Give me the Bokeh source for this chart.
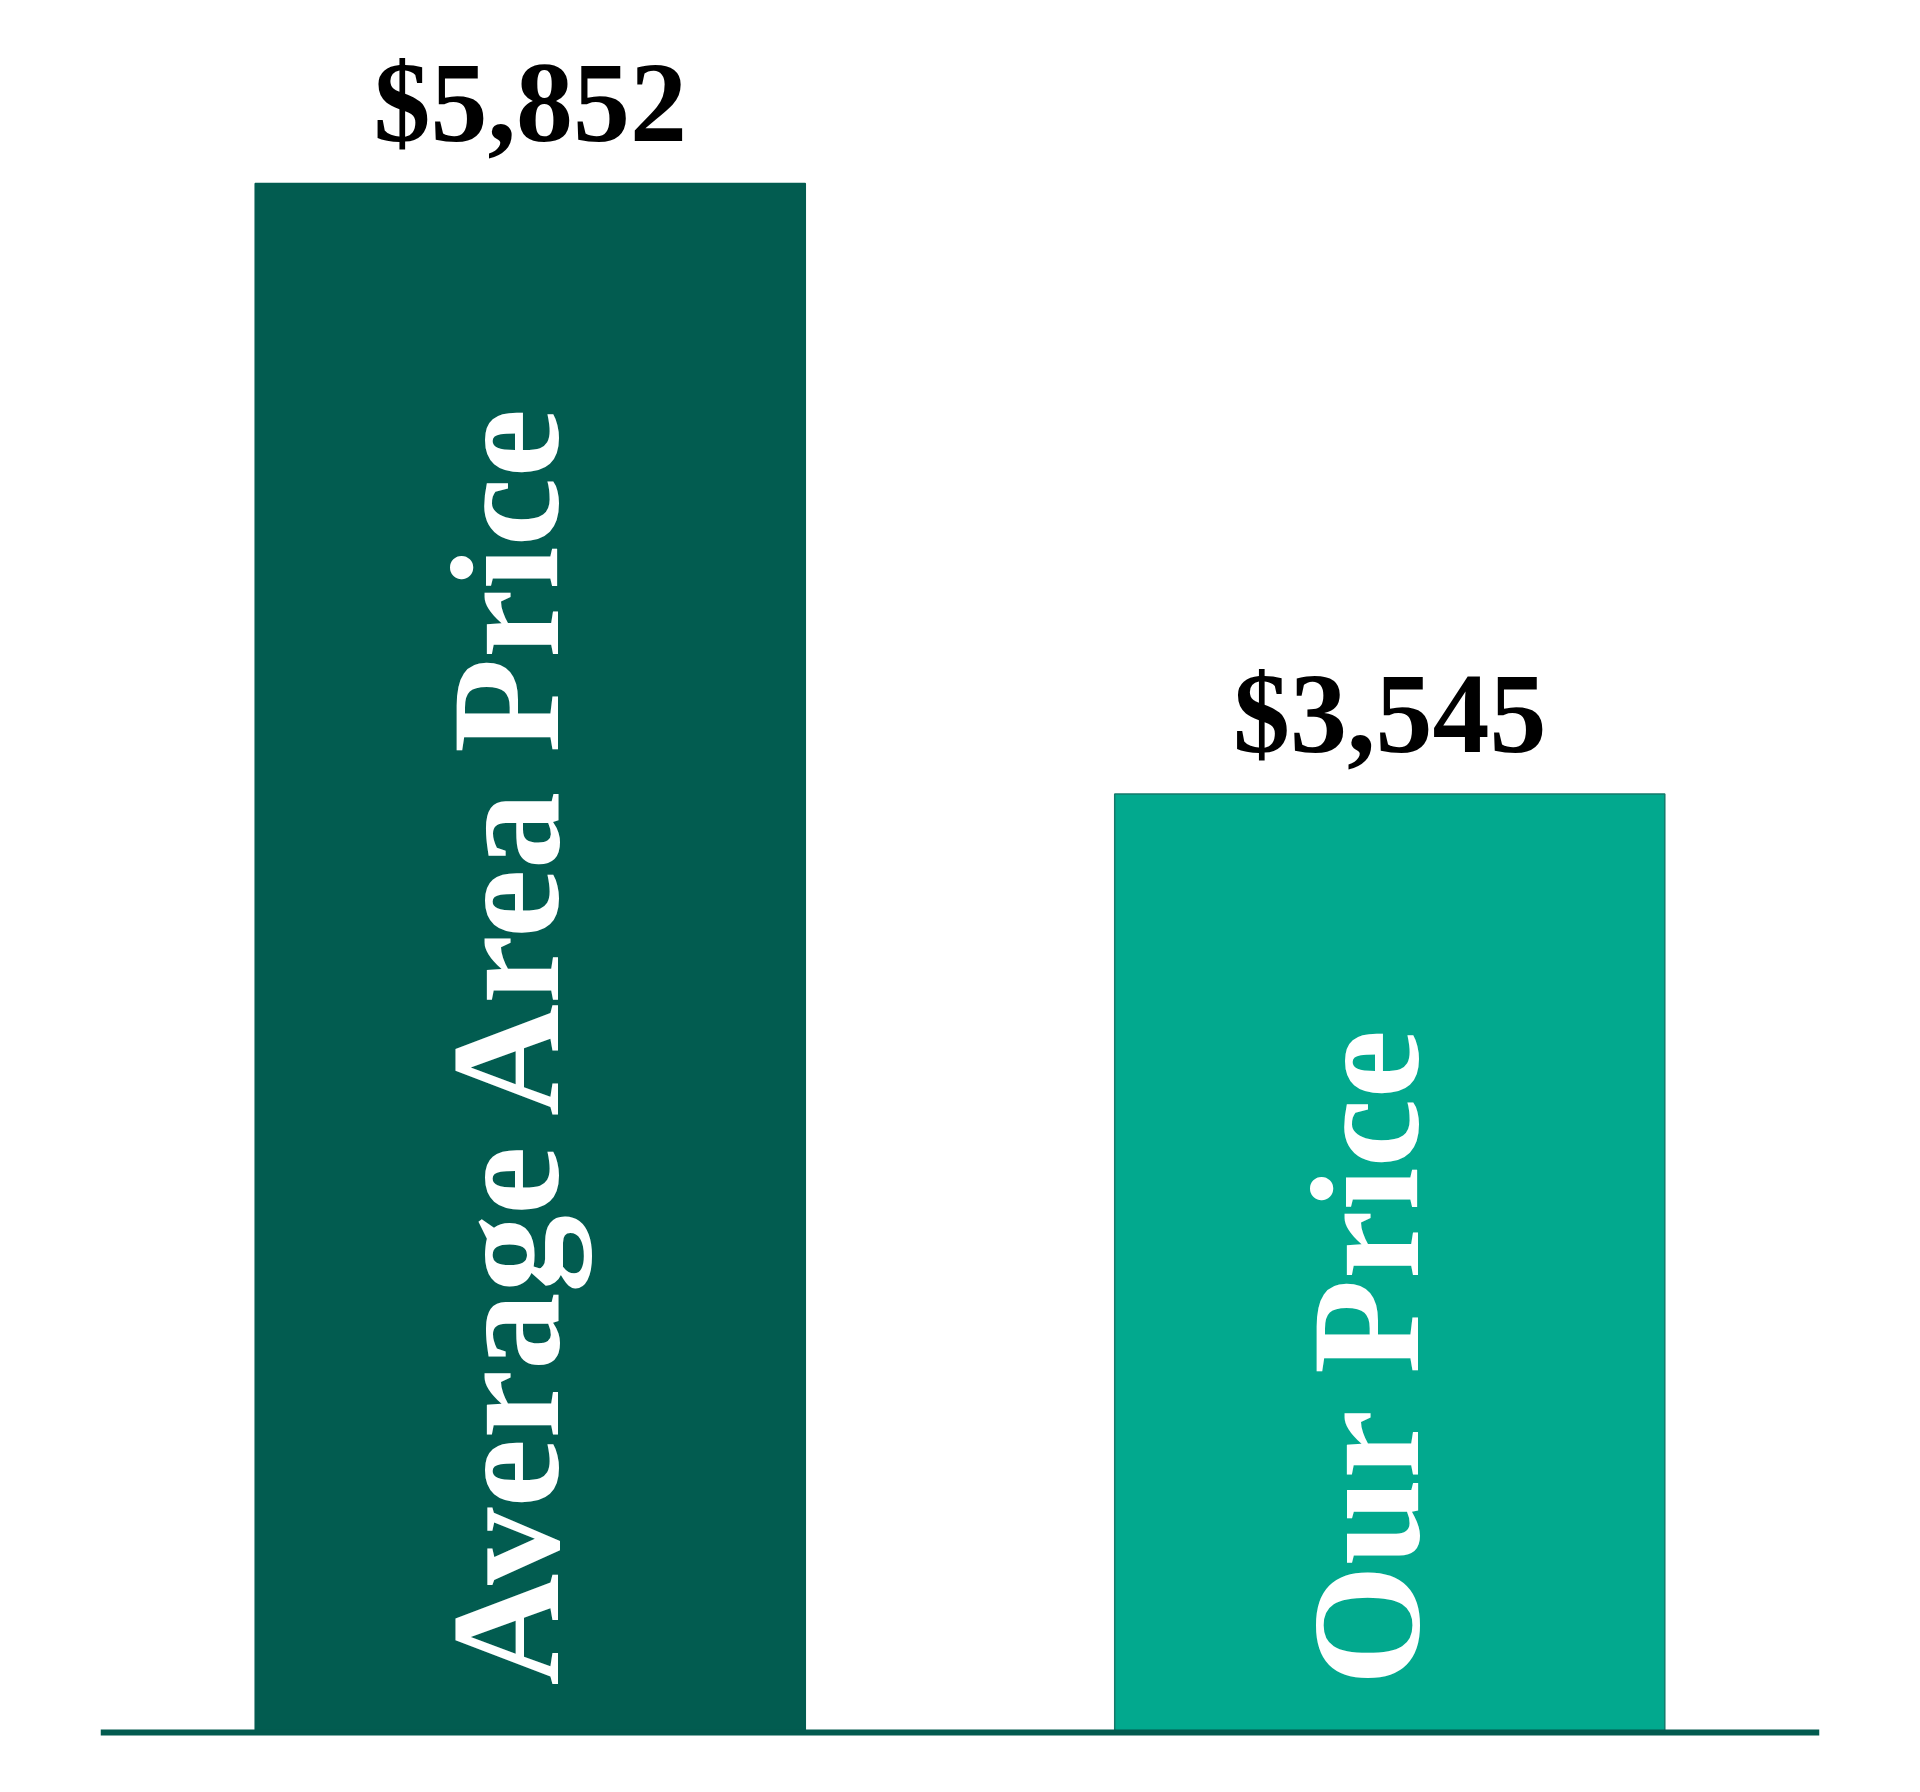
from bokeh.plotting import figure
from bokeh.models import ColumnDataSource, LabelSet, Span, Range1d, FactorRange
from bokeh.embed import file_html
from bokeh.resources import INLINE
import math

# ---- data ----
categories = ["Average Area Price", "Our Price"]
prices = [5852, 3545]
price_labels = ["$5,852", "$3,545"]
bar_colors = ["#025c50", "#02a98e"]
bar_edges = ["#025c50", "#147a6b"]

source = ColumnDataSource(dict(
    cat=categories,
    price=prices,
    label=price_labels,
    color=bar_colors,
    edge=bar_edges,
    zero=[0] * len(categories),
))

SERIF = "'Liberation Serif', 'Times New Roman', Times, serif"

p = figure(
    width=1904, height=1776,
    x_range=FactorRange(*categories, start=0, end=2),
    y_range=Range1d(-106, 6513),
    output_backend="svg", toolbar_location=None,
    min_border_left=100, min_border_right=85,
    min_border_top=8, min_border_bottom=16,
)
p.background_fill_color = "white"
p.border_fill_color = "white"
p.outline_line_color = None
p.grid.visible = False
p.axis.visible = False

p.vbar(x="cat", top="price", bottom=0, width=0.64, source=source,
       fill_color="color", line_color="edge", line_width=1.5)

p.add_layout(Span(location=0, dimension="width", line_color="#025b4f", line_width=6))

value_labels = LabelSet(
    x="cat", y="price", text="label", source=source,
    text_align="center", text_baseline="alphabetic", y_offset=42,
    text_font=SERIF, text_font_style="bold",
    text_font_size="114px", text_color="#000000",
)
p.add_layout(value_labels)

name_labels = LabelSet(
    x="cat", y="zero", text="cat", source=source,
    angle=math.pi / 2, text_align="left", text_baseline="alphabetic",
    x_offset=28, y_offset=47,
    text_font=SERIF, text_font_style="bold",
    text_font_size="155px", text_color="#ffffff",
)
p.add_layout(name_labels)

open("out.html", "w").write(file_html(p, INLINE))
